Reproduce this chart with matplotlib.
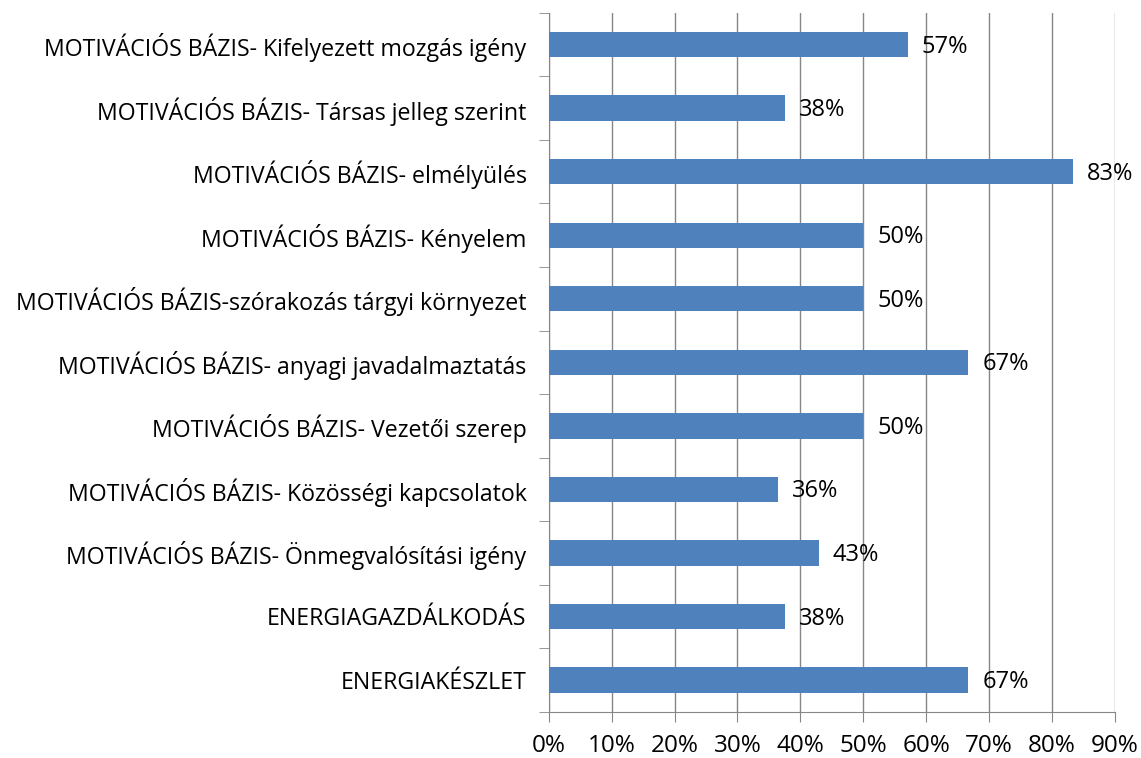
import numpy as np
import matplotlib.pyplot as plt
from matplotlib.ticker import MultipleLocator, PercentFormatter

# categories from top to bottom
categories = [
    'MOTIVÁCIÓS BÁZIS- Kifelyezett mozgás igény',
    'MOTIVÁCIÓS BÁZIS- Társas jelleg szerint',
    'MOTIVÁCIÓS BÁZIS- elmélyülés',
    'MOTIVÁCIÓS BÁZIS- Kényelem',
    'MOTIVÁCIÓS BÁZIS-szórakozás tárgyi környezet',
    'MOTIVÁCIÓS BÁZIS- anyagi javadalmaztatás',
    'MOTIVÁCIÓS BÁZIS- Vezetői szerep',
    'MOTIVÁCIÓS BÁZIS- Közösségi kapcsolatok',
    'MOTIVÁCIÓS BÁZIS- Önmegvalósítási igény',
    'ENERGIAGAZDÁLKODÁS',
    'ENERGIAKÉSZLET',
]
values = [0.571, 0.375, 0.833, 0.5, 0.5, 0.667, 0.5, 0.364, 0.429, 0.375, 0.667]

plt.rcParams['font.family'] = ['Open Sans', 'DejaVu Sans']

fig = plt.figure(figsize=(11.41, 7.58), dpi=100)
ax = fig.add_axes([0.481, 0.061, 0.496, 0.922])

y = np.arange(len(categories))[::-1]
bars = ax.barh(y, values, height=0.4, color='#4F81BD', zorder=3)

for rect, v in zip(bars, values):
    ax.annotate(f'{v * 100:.0f}%', xy=(rect.get_width(), rect.get_y() + rect.get_height() / 2),
                xytext=(10, -1.5), textcoords='offset points', va='center', ha='left',
                fontsize=17, zorder=4)

ax.set_xlim(0, 0.9)
ax.set_ylim(-0.5, len(categories) - 0.5)
ax.xaxis.set_major_locator(MultipleLocator(0.1))
ax.xaxis.set_major_formatter(PercentFormatter(1.0, decimals=0))
ax.grid(axis='x', color='#868686', linewidth=1.0, zorder=0)

# category labels centred, tick marks between categories
ax.set_yticks(y)
ax.set_yticklabels(categories, fontsize=16.7)
ax.set_yticks(np.arange(-0.5, len(categories), 1.0), minor=True)
ax.tick_params(axis='y', which='major', length=0, pad=16)
ax.tick_params(axis='y', which='minor', length=7, color='#868686', direction='out')
ax.tick_params(axis='x', length=7, color='#868686', labelsize=17.5, pad=9)

for side in ['top', 'right']:
    ax.spines[side].set_visible(False)
for side in ['left', 'bottom']:
    ax.spines[side].set_color('#868686')

fig.savefig('out.png', dpi=100)
